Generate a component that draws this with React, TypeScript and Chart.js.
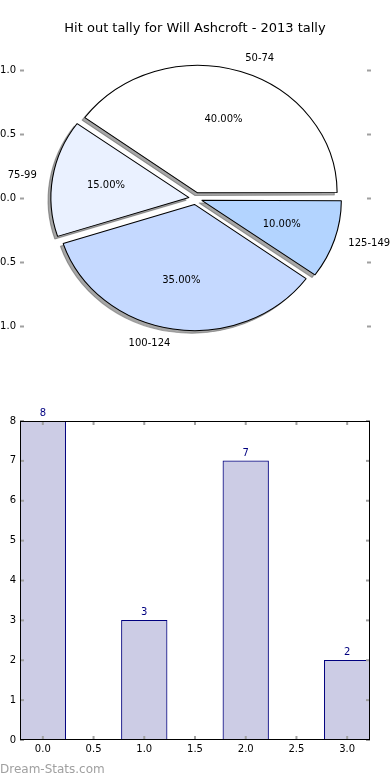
import React, { useEffect, useRef } from 'react';
import { Chart, registerables } from 'chart.js';

Chart.register(...registerables);

const TITLE = 'Hit out tally for Will Ashcroft - 2013 tally';
const CATEGORIES = ['50-74', '75-99', '100-124', '125-149'];
const COUNTS = [8, 3, 7, 2];
const SLICE_COLORS = ['#ffffff', '#eaf1ff', '#c5d9ff', '#b3d4ff'];
const BAR_X = [0, 1, 2, 3];
const PIE_Y_TICKS = [-1, -0.5, 0, 0.5, 1];
const BAR_X_TICKS = [0, 0.5, 1, 1.5, 2, 2.5, 3];
const BAR_Y_TICKS = [0, 1, 2, 3, 4, 5, 6, 7, 8];
const WATERMARK = 'Dream-Stats.com';

const FONT = '"DejaVu Sans", "Liberation Sans", sans-serif';
const PIE_LIM = 1.2227;
const X_STRETCH = 1.095;
const SHADOW = 'rgba(77,77,77,0.5)';
const SHADOW_DX = -2.8;
const SHADOW_DY = 2.6;
const LABEL_DIST = 1.1;
const PCT_DIST = 0.6;
const TICK_GRAY = '#a0a0a0';

const fmtNum = (v: number) => (v < 0 ? '\u2212' : '') + Math.abs(v).toFixed(1);

const pieDecor = {
  id: 'pieDecor',
  beforeDatasetsDraw(chart: any) {
    const ctx = chart.ctx as CanvasRenderingContext2D;
    const arcs = chart.getDatasetMeta(0).data as any[];
    if (!arcs.length) return;
    const cx = arcs[0].x;
    const cy = arcs[0].y;
    // shadows beneath all wedges
    ctx.save();
    ctx.translate(SHADOW_DX, SHADOW_DY);
    ctx.translate(cx, cy);
    ctx.scale(X_STRETCH, 1);
    ctx.translate(-cx, -cy);
    arcs.forEach((a) => {
      const orig = a.options;
      a.options = { ...orig, backgroundColor: SHADOW, borderColor: SHADOW };
      a.draw(ctx);
      a.options = orig;
    });
    ctx.restore();
    ctx.save();
    ctx.translate(cx, cy);
    ctx.scale(X_STRETCH, 1);
    ctx.translate(-cx, -cy);
  },
  afterDatasetsDraw(chart: any) {
    const ctx = chart.ctx as CanvasRenderingContext2D;
    ctx.restore();
    const arcs = chart.getDatasetMeta(0).data as any[];
    const labels = chart.data.labels as string[];
    const values = chart.data.datasets[0].data as number[];
    const total = values.reduce((s, v) => s + v, 0);
    const ys = chart.scales.y;
    const unit = Math.abs(ys.getPixelForValue(1) - ys.getPixelForValue(0));
    ctx.save();
    ctx.fillStyle = '#000';
    ctx.font = `10px ${FONT}`;
    ctx.textBaseline = 'middle';
    arcs.forEach((a, k) => {
      const mid = (a.startAngle + a.endAngle) / 2;
      const shift = (a.options.offset || 0) / 4;
      const c = Math.cos(mid);
      const s = Math.sin(mid);
      const ox = a.x + X_STRETCH * shift * c;
      const oy = a.y + shift * s;
      ctx.textAlign = c > 0 ? 'left' : 'right';
      ctx.fillText(labels[k], ox + X_STRETCH * LABEL_DIST * unit * c, oy + LABEL_DIST * unit * s);
      ctx.textAlign = 'center';
      const pct = ((values[k] / total) * 100).toFixed(2) + '%';
      ctx.fillText(pct, ox + X_STRETCH * PCT_DIST * unit * c, oy + PCT_DIST * unit * s);
    });
    ctx.restore();
  },
  afterDraw(chart: any) {
    const ctx = chart.ctx as CanvasRenderingContext2D;
    const { left, right } = chart.chartArea;
    const ys = chart.scales.y;
    ctx.save();
    ctx.fillStyle = TICK_GRAY;
    PIE_Y_TICKS.forEach((v) => {
      const y = ys.getPixelForValue(v);
      ctx.fillRect(left, y - 1, 4, 2);
      ctx.fillRect(right - 4, y - 1, 4, 2);
    });
    ctx.restore();
  },
};

const barDecor = {
  id: 'barDecor',
  afterDatasetsDraw(chart: any) {
    const ctx = chart.ctx as CanvasRenderingContext2D;
    const bars = chart.getDatasetMeta(0).data as any[];
    const data = chart.data.datasets[0].data as any[];
    ctx.save();
    ctx.fillStyle = '#000080';
    ctx.font = `10px ${FONT}`;
    ctx.textAlign = 'center';
    ctx.textBaseline = 'alphabetic';
    bars.forEach((b, i) => {
      ctx.fillText(String(data[i].y), b.x, b.y - 5);
    });
    ctx.restore();
  },
  afterDraw(chart: any) {
    const ctx = chart.ctx as CanvasRenderingContext2D;
    const { left, right, top, bottom } = chart.chartArea;
    const xs = chart.scales.x;
    const ys = chart.scales.y;
    ctx.save();
    ctx.fillStyle = TICK_GRAY;
    BAR_X_TICKS.forEach((v) => {
      const x = xs.getPixelForValue(v);
      ctx.fillRect(x - 1, top, 2, 4);
      ctx.fillRect(x - 1, bottom - 4, 2, 4);
    });
    BAR_Y_TICKS.forEach((v) => {
      const y = ys.getPixelForValue(v);
      ctx.fillRect(left, y - 1, 4, 2);
      ctx.fillRect(right - 4, y - 1, 4, 2);
    });
    ctx.strokeStyle = '#000';
    ctx.lineWidth = 1;
    ctx.strokeRect(left + 0.5, top + 0.5, right - left - 1, bottom - top - 1);
    ctx.restore();
  },
};

export default function App() {
  const pieRef = useRef<HTMLCanvasElement>(null);
  const barRef = useRef<HTMLCanvasElement>(null);

  useEffect(() => {
    const order = [3, 2, 1, 0]; // Chart.js draws clockwise; matplotlib counter-clockwise
    const pie = new Chart(pieRef.current as HTMLCanvasElement, {
      type: 'pie',
      data: {
        labels: order.map((i) => CATEGORIES[i]),
        datasets: [
          {
            data: order.map((i) => COUNTS[i]),
            backgroundColor: order.map((i) => SLICE_COLORS[i]),
            borderColor: '#000',
            borderWidth: 1,
            offset: 24,
            hoverOffset: 0,
          },
        ],
      },
      options: {
        responsive: false,
        animation: false,
        rotation: 90,
        radius: 125,
        events: [],
        layout: { padding: { top: 0, bottom: 35, left: 0, right: 0 } },
        plugins: {
          legend: { display: false },
          tooltip: { enabled: false },
          title: {
            display: true,
            text: TITLE,
            color: '#000',
            font: { family: FONT, size: 13, weight: 'normal', lineHeight: 1.2 },
            padding: { top: 21, bottom: 5.4 },
          },
        },
        scales: {
          y: {
            type: 'linear',
            position: 'left',
            min: -PIE_LIM,
            max: PIE_LIM,
            afterBuildTicks: (s: any) => {
              s.ticks = PIE_Y_TICKS.map((v) => ({ value: v }));
            },
            ticks: {
              callback: (v: any) => fmtNum(Number(v)),
              color: '#000',
              font: { family: FONT, size: 10 },
              padding: 4,
            },
            grid: { display: false, drawTicks: false },
            border: { display: false },
            afterFit: (s: any) => {
              s.width = 20;
            },
          },
          y2: {
            type: 'linear',
            position: 'right',
            min: -PIE_LIM,
            max: PIE_LIM,
            ticks: { display: false },
            grid: { display: false, drawTicks: false },
            border: { display: false },
            afterFit: (s: any) => {
              s.width = 19;
            },
          },
        },
      } as any,
      plugins: [pieDecor],
    });

    const bar = new Chart(barRef.current as HTMLCanvasElement, {
      type: 'bar',
      data: {
        datasets: [
          {
            data: BAR_X.map((x, i) => ({ x, y: COUNTS[i] })),
            backgroundColor: '#ccccE5',
            borderColor: '#00007f',
            borderWidth: 1,
            barThickness: 'flex',
            barPercentage: 0.45,
            categoryPercentage: 1,
          },
        ],
      },
      options: {
        responsive: false,
        animation: false,
        events: [],
        layout: { padding: { top: 31, right: 20, left: 0, bottom: 0 } },
        plugins: {
          legend: { display: false },
          tooltip: { enabled: false },
          title: { display: false },
        },
        scales: {
          x: {
            type: 'linear',
            offset: false,
            min: -0.225,
            max: 3.225,
            afterBuildTicks: (s: any) => {
              s.ticks = BAR_X_TICKS.map((v) => ({ value: v }));
            },
            ticks: {
              callback: (v: any) => Number(v).toFixed(1),
              color: '#000',
              font: { family: FONT, size: 10 },
              padding: 3,
              maxRotation: 0,
              autoSkip: false,
            },
            grid: { display: false, drawTicks: false, offset: false },
            border: { display: false },
            afterFit: (s: any) => {
              s.height = 40;
            },
          },
          y: {
            type: 'linear',
            min: 0,
            max: 8,
            afterBuildTicks: (s: any) => {
              s.ticks = BAR_Y_TICKS.map((v) => ({ value: v }));
            },
            ticks: {
              color: '#000',
              font: { family: FONT, size: 10 },
              padding: 4,
            },
            grid: { display: false, drawTicks: false },
            border: { display: false },
            afterFit: (s: any) => {
              s.width = 20;
            },
          },
        },
      } as any,
      plugins: [barDecor],
    });

    return () => {
      pie.destroy();
      bar.destroy();
    };
  }, []);

  return (
    <div
      style={{
        position: 'absolute',
        left: 0,
        top: 0,
        width: 390,
        height: 780,
        background: '#fff',
        overflow: 'hidden',
      }}
    >
      <canvas ref={pieRef} width={390} height={390} style={{ position: 'absolute', left: 0, top: 0 }} />
      <canvas ref={barRef} width={390} height={390} style={{ position: 'absolute', left: 0, top: 390 }} />
      <div
        style={{
          position: 'absolute',
          left: 0,
          top: 762,
          font: `12px ${FONT}`,
          color: '#a0a0a0',
          whiteSpace: 'nowrap',
        }}
      >
        {WATERMARK}
      </div>
    </div>
  );
}
